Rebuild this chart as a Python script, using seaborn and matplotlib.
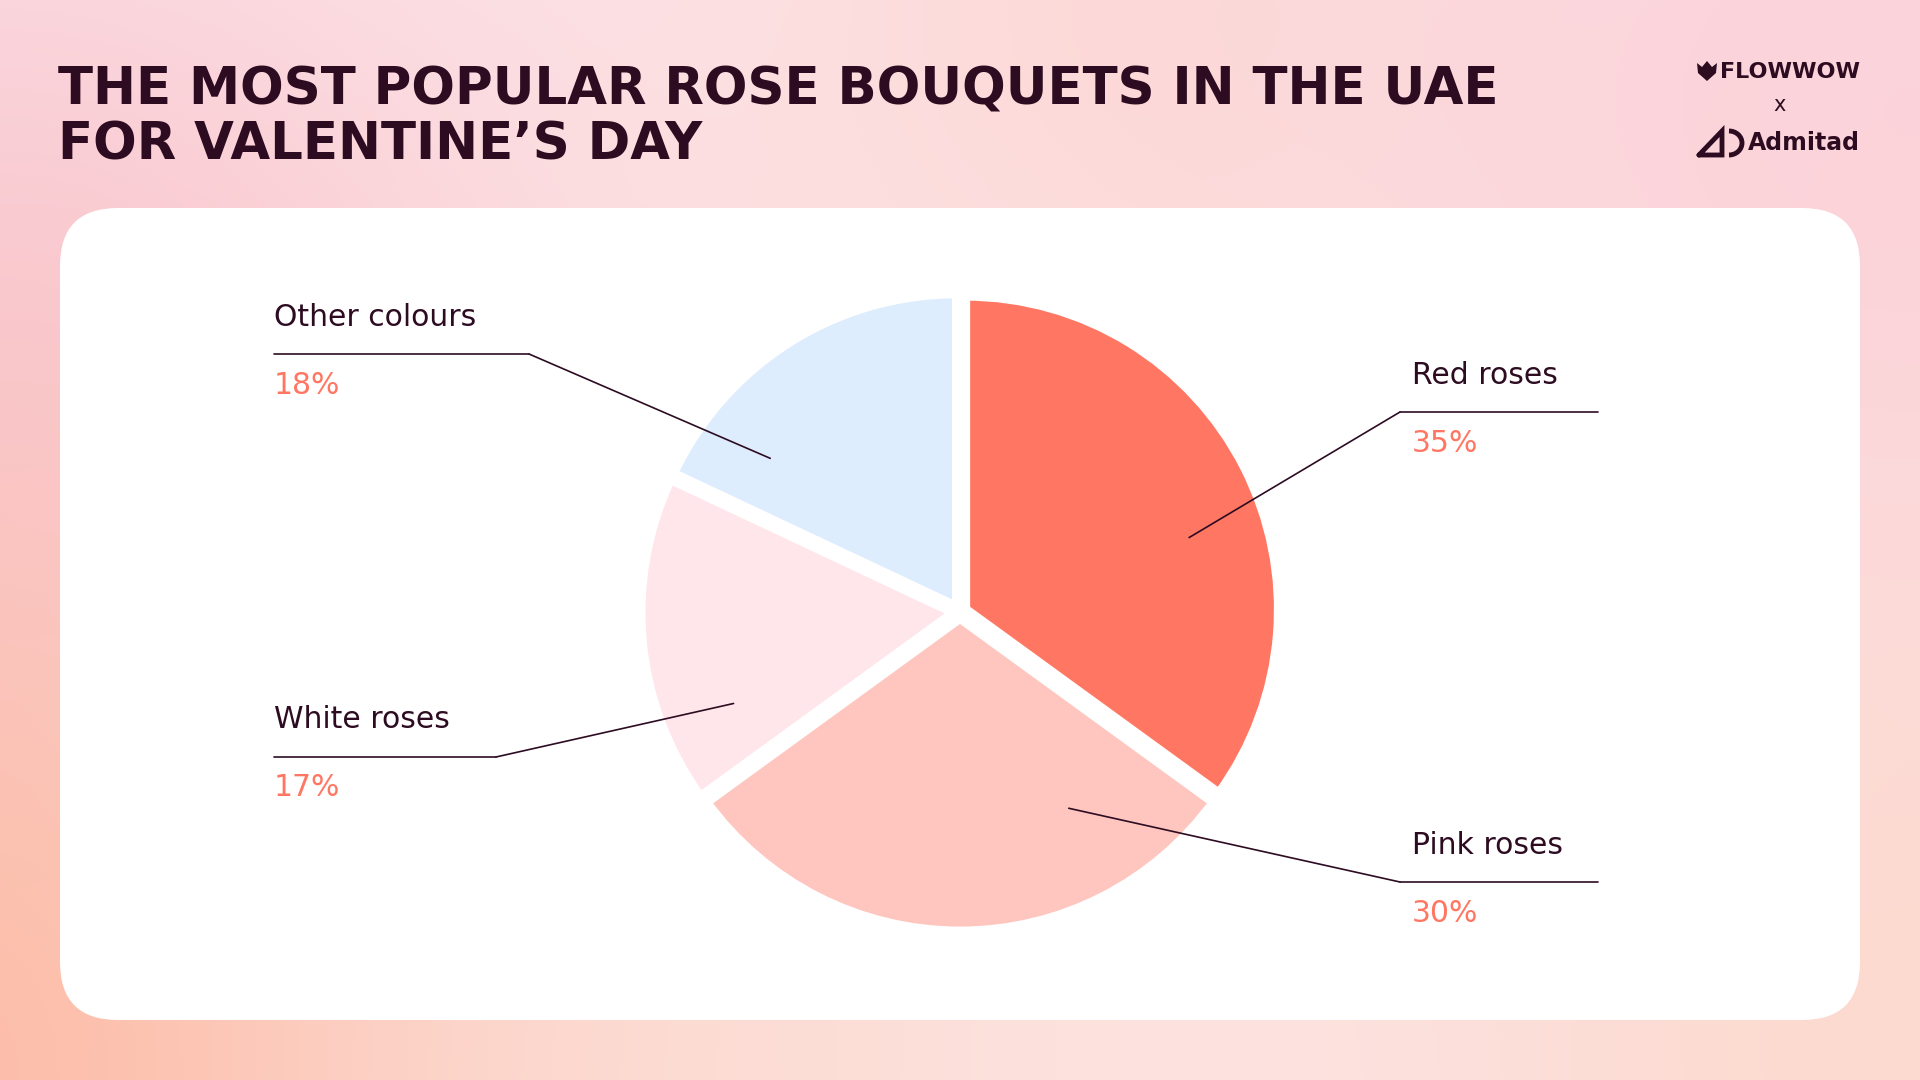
import numpy as np
import matplotlib
matplotlib.use("Agg")
import matplotlib.pyplot as plt
import seaborn as sns
from matplotlib.patches import FancyBboxPatch, ConnectionPatch, Polygon

# data
categories = ["Red roses", "Pink roses", "White roses", "Other colours"]
shares = [35, 30, 17, 18]
slice_colors = ["#FF7763", "#FEC6BF", "#FFE6EB", "#DDEDFE"]

# label layout (pixels on the 1920x1080 canvas) and where the leader hits the slice
label_side = ["right", "right", "left", "left"]
label_y = [375, 845, 720, 317]
anchor_angle = [18, -61, -158, 141]
anchor_r = [0.73, 0.68, 0.74, 0.74]

title_lines = ["THE MOST POPULAR ROSE BOUQUETS IN THE UAE", "FOR VALENTINE\u2019S DAY"]

DARK = "#2D0C22"
CORAL = "#FF7763"

sns.set_theme(style="white")
plt.rcParams["font.family"] = ["DejaVu Sans"]

fig = plt.figure(figsize=(19.2, 10.8), dpi=100)

# background canvas in pixel units
bg = fig.add_axes([0, 0, 1, 1])
bg.set_xlim(0, 1920)
bg.set_ylim(1080, 0)
bg.axis("off")

yy, xx = np.mgrid[0:1080:4, 0:1920:4]
img = np.ones(xx.shape + (3,)) * np.array([0xFD, 0xE8, 0xEC]) / 255.0
blobs = [
    ((0, 420), 400, "#F8C4D0", 0.85),
    ((0, 1080), 420, "#FCBBA6", 1.0),
    ((1150, 0), 330, "#FCD8D4", 0.8),
    ((1920, 120), 420, "#FBCCD6", 0.75),
    ((1920, 1080), 420, "#FCD6C6", 0.75),
    ((700, 1080), 380, "#FDDCCF", 0.6),
]
for (bx, by), s, col, a in blobs:
    w = a * np.exp(-((xx - bx) ** 2 + (yy - by) ** 2) / (2 * s ** 2))
    c = np.array(matplotlib.colors.to_rgb(col))
    img = img * (1 - w[..., None]) + c * w[..., None]
bg.imshow(img, extent=(0, 1920, 1080, 0), aspect="auto", zorder=0)

card = FancyBboxPatch((60, 208), 1800, 812, boxstyle="round,pad=0,rounding_size=58",
                      fc="white", ec="none", zorder=1)
bg.add_patch(card)

# title
for i, line in enumerate(title_lines):
    bg.text(58, 104 + i * 55, line, fontsize=37, fontweight="bold", color=DARK,
            va="baseline", zorder=3)

# logos
bg.text(1860, 72, "FLOWWOW", fontsize=16, fontweight="black", color=DARK,
        ha="right", va="center", zorder=3)
tulip = Polygon([(1697, 63), (1702, 67), (1707, 61), (1712, 67), (1717, 63),
                 (1716, 73), (1707, 81), (1698, 73)], closed=True, fc=DARK, ec="none", zorder=3)
bg.add_patch(tulip)
bg.text(1780, 105, "x", fontsize=15, color=DARK, ha="center", va="center", zorder=3)
bg.text(1860, 143, "Admitad", fontsize=17, fontweight="bold", color=DARK,
        ha="right", va="center", zorder=3)
bg.plot([1699, 1722, 1722, 1699], [155, 131, 155, 155], color=DARK, lw=3.5,
        solid_joinstyle="miter", zorder=3)
bg.add_patch(matplotlib.patches.Arc((1729, 143), 26, 24, theta1=-90, theta2=90,
                                    color=DARK, lw=3.5, zorder=3))

# pie
cx, cy, R = 960, 612, 330
pie_ax = fig.add_axes([(cx - R) / 1920, (1080 - cy - R) / 1080, 2 * R / 1920, 2 * R / 1080])
pie_ax.axis("off")

explode = [0.018] * len(shares)
pie_ax.pie(shares, colors=slice_colors, startangle=90, counterclock=False,
           radius=0.95, explode=explode,
           wedgeprops=dict(edgecolor="white", linewidth=7, joinstyle="round"))
pie_ax.set_xlim(-1, 1)
pie_ax.set_ylim(-1, 1)
pie_ax.set_aspect("equal")

# labels with leader lines
for name, val, side, ly, ang, r in zip(categories, shares, label_side, label_y,
                                       anchor_angle, anchor_r):
    if side == "left":
        tx, x0, x1 = 274, 274, 529 if name == "Other colours" else 496
        knee = x1
    else:
        tx, x0, x1 = 1412, 1400, 1598
        knee = x0
    line_y = ly + 37
    bg.text(tx, ly, name, fontsize=21.5, color=DARK, va="center", zorder=3)
    bg.text(tx, ly + 68, f"{val}%", fontsize=21.5, color=CORAL, va="center", zorder=3)
    bg.plot([x0, x1], [line_y, line_y], color=DARK, lw=1.2, zorder=3)
    px = r * np.cos(np.radians(ang))
    py = r * np.sin(np.radians(ang))
    con = ConnectionPatch(xyA=(knee, line_y), coordsA=bg.transData,
                          xyB=(px, py), coordsB=pie_ax.transData,
                          color=DARK, lw=1.2, zorder=5)
    fig.add_artist(con)

fig.savefig("out.png", dpi=100)
